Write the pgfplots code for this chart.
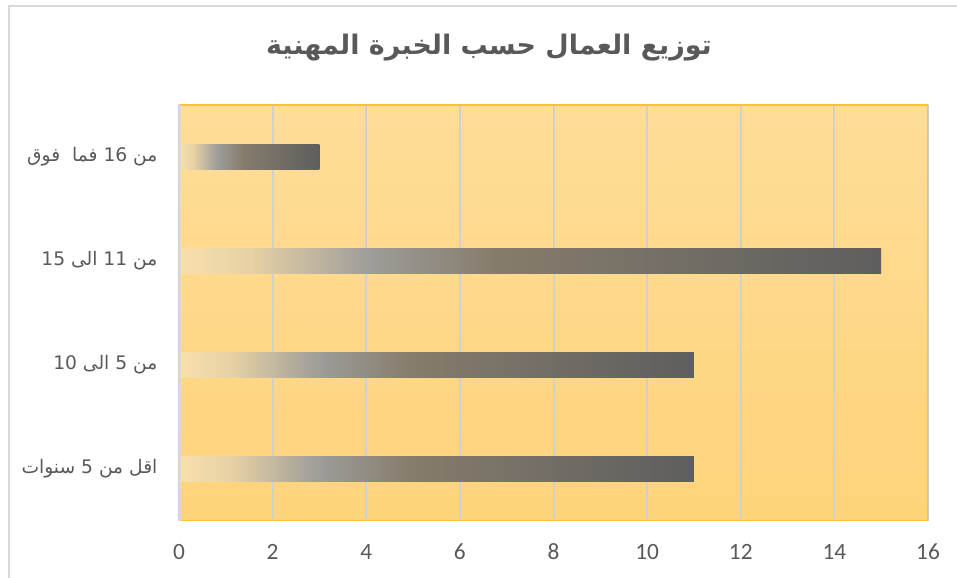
\documentclass[border=0pt]{standalone}
\usepackage{pgfplots}
\pgfplotsset{compat=1.18}
\usepackage{fontspec}
\setmainfont{Carlito}
\newfontfamily\arabicfont[Script=Arabic]{DejaVu Sans}
\TeXXeTstate=1
\definecolor{b0}{RGB}{248,224,172}
\definecolor{b1}{RGB}{232,210,165}
\definecolor{b2}{RGB}{158,157,154}
\definecolor{b3}{RGB}{134,124,108}
\definecolor{b4}{RGB}{94,94,94}
\definecolor{bgtop}{RGB}{255,220,152}
\definecolor{bgbot}{RGB}{254,212,122}
\definecolor{goldline}{RGB}{248,198,50}
\definecolor{leftgray}{RGB}{217,217,217}
\definecolor{gridgray}{RGB}{208,208,208}
\definecolor{framegray}{RGB}{217,217,217}
\definecolor{txtgray}{RGB}{89,89,89}
\pgfdeclarehorizontalshading{barshade}{100bp}{color(0bp)=(b0); color(25bp)=(b0); color(30bp)=(b1); color(38.5bp)=(b2); color(47.5bp)=(b3); color(75bp)=(b4); color(100bp)=(b4)}
\begin{document}
\begin{tikzpicture}[x=1pt,y=1pt]
\path[use as bounding box] (0,0) rectangle (717.75,433.5);
\draw[framegray, line width=1.2pt] (6.75,-5) -- (6.75,429) -- (725,429);
\node[font=\arabicfont\bfseries\fontsize{20.2}{24}\selectfont, text=txtgray] at (366.75,398) {\beginR توزيع العمال حسب الخبرة المهنية\endR};
\begin{axis}[
  at={(134.25pt,42.75pt)}, anchor=south west,
  scale only axis, width=561.75pt, height=312pt,
  xmin=0, xmax=16, ymin=-0.5, ymax=3.5,
  xtick={0,2,...,16}, ytick={0,1,2,3},
  yticklabels={
    {\beginR اقل من \beginL5\endL{} سنوات\endR},
    {\beginR من \beginL5\endL{} الى \beginL10\endL{}\endR},
    {\beginR من \beginL11\endL{} الى \beginL15\endL{}\endR},
    {\beginR من \beginL16\endL{} فما \ فوق\endR}},
  xmajorgrids, ymajorgrids=false,
  major grid style={draw=gridgray, line width=1.5pt},
  axis line style={draw=none},
  major tick length=0pt,
  no markers,
  axis background/.style={shade, top color=bgtop, bottom color=bgbot},
  /pgf/number format/assume math mode=true,
  xticklabel style={anchor=center, yshift=-23.25pt, font=\fontsize{17.5}{20}\selectfont, text=txtgray},
  yticklabel style={anchor=east, inner sep=0pt, xshift=-16pt, font=\arabicfont\fontsize{14}{16}\selectfont, text=txtgray},
  every axis plot/.append style={xbar, bar width=18.75pt, bar shift=0pt, draw=none, mark=none, shade, shading=barshade},
]
\addplot coordinates {(11,0)};
\addplot coordinates {(11,1)};
\addplot coordinates {(15,2)};
\addplot coordinates {(3,3)};
\draw[goldline, line width=1.5pt] (rel axis cs:0,1) -- (rel axis cs:1,1) -- (rel axis cs:1,0) -- (rel axis cs:0,0);
\draw[leftgray, line width=3pt] (rel axis cs:0,0) -- (rel axis cs:0,1);
\end{axis}
\end{tikzpicture}
\end{document}
